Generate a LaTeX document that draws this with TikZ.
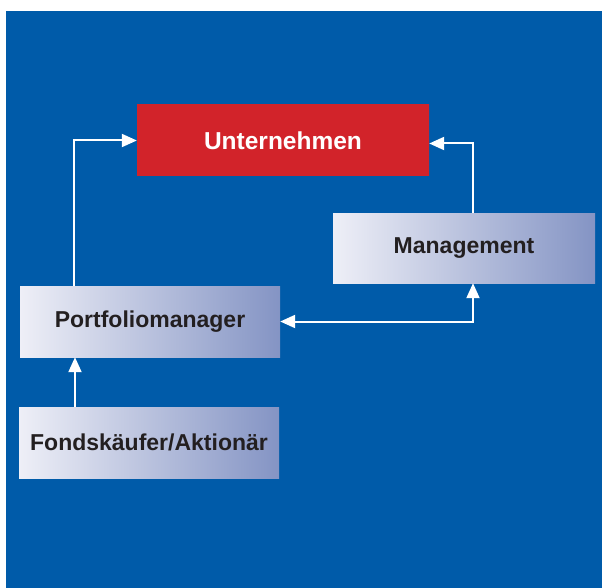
\documentclass[tikz,border=0pt]{standalone}
\usepackage{fontspec}
\setmainfont{Liberation Sans}
\usepackage{xcolor}
\usepackage{tikz}
\usetikzlibrary{arrows.meta, positioning, calc}

\definecolor{bgblue}{HTML}{005BA9}
\definecolor{unred}{HTML}{D2232A}
\definecolor{boxlight}{HTML}{EEEFF7}
\definecolor{boxdark}{HTML}{8494C4}
\definecolor{txtdark}{HTML}{231F20}

\begin{document}
\begin{tikzpicture}[
    x=1pt, y=-1pt,
    box/.style={inner sep=0pt, minimum width=260pt, minimum height=71pt,
                left color=boxlight, right color=boxdark, text=txtdark,
                font=\fontsize{23}{27}\selectfont\bfseries},
    redbox/.style={box, fill=unred, left color=unred, right color=unred,
                   text=white, minimum width=292pt,
                   font=\fontsize{24.5}{28}\selectfont\bfseries},
    arr/.style={-{Triangle[length=15pt, width=13pt]}, white, line width=2pt},
    arrboth/.style={{Triangle[length=15pt, width=13pt]}-{Triangle[length=15pt, width=13pt]},
                    white, line width=2pt}
]
\useasboundingbox (0,0) rectangle (602,588);
\fill[bgblue] (6,11) rectangle (602,588);

\node[redbox] (un) at (283,140.5) {Unternehmen};
\node[box, minimum width=262pt, minimum height=70pt] (mg) at (464,248) {Management};
\node[box] (pm) at (150,321.5) {Portfolio\-manager};
\node[box] (fk) at (149,442.5) {Fondskäufer/Aktionär};

\draw[arr] (pm.north -| 74,0) |- (un.west);
\draw[arr] (mg.north -| 473,0) |- ($(un.east)+(0,3)$);
\draw[arrboth] (mg.south -| 473,0) |- (pm.east);
\draw[arr] (fk.north -| 75,0) -- (pm.south -| 75,0);
\end{tikzpicture}
\end{document}
